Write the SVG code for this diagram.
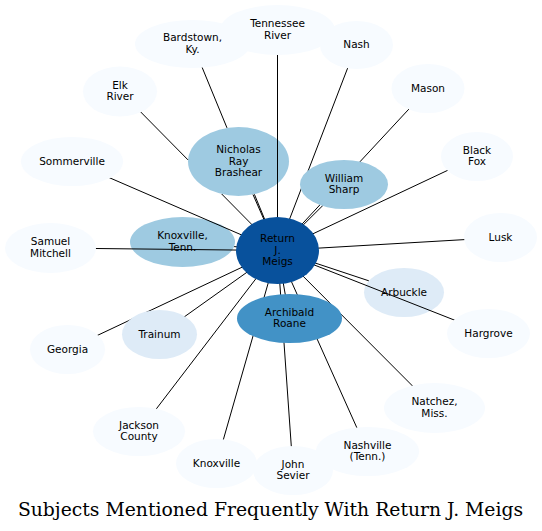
<svg xmlns="http://www.w3.org/2000/svg" width="542" height="531" viewBox="0 0 542 531">
<style>
text{font-family:"DejaVu Sans",sans-serif;font-size:10.5px;text-anchor:middle;fill:#000}
.t{font-family:"DejaVu Serif",serif;font-size:18.8px}
.c0{fill:#f7fbff}.c1{fill:#deebf7}.c2{fill:#9ecae1}.c3{fill:#4292c6}.c4{fill:#08519c}
#edges path{stroke:#000;stroke-width:1;fill:none}
</style>
<rect width="542" height="531" fill="#fff"/>
<g id="n_knoxtenn"><ellipse class="c2" cx="182.5" cy="242" rx="52.5" ry="25"/><text x="182.5" y="239.25">Knoxville,</text><text x="182.5" y="250.75">Tenn.</text></g>
<g id="n_arbuckle"><ellipse class="c1" cx="404" cy="292.5" rx="40" ry="24.5"/><text x="404" y="295.5">Arbuckle</text></g>
<g id="n_nicholas"><ellipse class="c2" cx="238.5" cy="161.5" rx="50.5" ry="34.5"/><text x="238.5" y="153">Nicholas</text><text x="238.5" y="164.5">Ray</text><text x="238.5" y="176">Brashear</text></g>
<g id="edges">
<path d="M120,91L188,159.9M221.7,194L277.5,250.5"/>
<path d="M192.5,44L227,127.9M254.4,194.3L277.5,250.5"/>
<path d="M277.5,30L277.5,250.5"/>
<path d="M356.5,45L277.5,250.5"/>
<path d="M428,88.5L277.5,250.5"/>
<path d="M477,156.5L277.5,250.5"/>
<path d="M500.5,237.5L277.5,250.5"/>
<path d="M488.5,333.5L277.5,250.5"/>
<path d="M434.5,408L277.5,250.5"/>
<path d="M367.5,451.5L277.5,250.5"/>
<path d="M293,470.5L277.5,250.5"/>
<path d="M216.5,463.5L277.5,250.5"/>
<path d="M139,431.5L277.5,250.5"/>
<path d="M67.5,349.5L277.5,250.5"/>
<path d="M159.5,334.5L277.5,250.5"/>
<path d="M50.5,248L277.5,250.5"/>
<path d="M72,161.5L277.5,250.5"/>
<path d="M253,194.55L277.5,250.5"/>
<path d="M344,184.5L277.5,250.5"/>
<path d="M234.1,246.6L277.5,250.5"/>
<path d="M368.8,280.8L277.5,250.5"/>
<path d="M289.5,318.5L277.5,250.5"/>
</g>
<g id="n_sommerville"><ellipse class="c0" cx="72" cy="161.5" rx="51" ry="24.5"/><text x="72" y="164.5">Sommerville</text></g>
<g id="n_samuel"><ellipse class="c0" cx="50.5" cy="248" rx="45.5" ry="25"/><text x="50.5" y="245.25">Samuel</text><text x="50.5" y="256.75">Mitchell</text></g>
<g id="n_georgia"><ellipse class="c0" cx="67.5" cy="349.5" rx="37.5" ry="24.5"/><text x="67.5" y="352.5">Georgia</text></g>
<g id="n_elk"><ellipse class="c0" cx="120" cy="91.5" rx="37" ry="25"/><text x="120" y="88.75">Elk</text><text x="120" y="100.25">River</text></g>
<g id="n_bardstown"><ellipse class="c0" cx="192.5" cy="44" rx="57.5" ry="24"/><text x="192.5" y="41.25">Bardstown,</text><text x="192.5" y="52.75">Ky.</text></g>
<g id="n_nash"><ellipse class="c0" cx="356.5" cy="45" rx="36.5" ry="24"/><text x="356.5" y="48">Nash</text></g>
<g id="n_tennessee"><ellipse class="c0" cx="277.5" cy="30" rx="57.5" ry="25"/><text x="277.5" y="27.25">Tennessee</text><text x="277.5" y="38.75">River</text></g>
<g id="n_mason"><ellipse class="c0" cx="428" cy="88.5" rx="36.5" ry="24.5"/><text x="428" y="91.5">Mason</text></g>
<g id="n_blackfox"><ellipse class="c0" cx="477" cy="156.5" rx="36" ry="24.5"/><text x="477" y="153.75">Black</text><text x="477" y="165.25">Fox</text></g>
<g id="n_lusk"><ellipse class="c0" cx="500.5" cy="237.5" rx="36.5" ry="24.5"/><text x="500.5" y="240.5">Lusk</text></g>
<g id="n_hargrove"><ellipse class="c0" cx="488.5" cy="333.5" rx="41.5" ry="24.5"/><text x="488.5" y="336.5">Hargrove</text></g>
<g id="n_natchez"><ellipse class="c0" cx="434.5" cy="408" rx="50.5" ry="25"/><text x="434.5" y="405.25">Natchez,</text><text x="434.5" y="416.75">Miss.</text></g>
<g id="n_jackson"><ellipse class="c0" cx="139" cy="431.5" rx="46" ry="24.5"/><text x="139" y="428.75">Jackson</text><text x="139" y="440.25">County</text></g>
<g id="n_knoxville"><ellipse class="c0" cx="216.5" cy="463.5" rx="40.5" ry="24.5"/><text x="216.5" y="466.5">Knoxville</text></g>
<g id="n_nashville"><ellipse class="c0" cx="367.5" cy="451.5" rx="51.5" ry="24.5"/><text x="367.5" y="448.75">Nashville</text><text x="367.5" y="460.25">(Tenn.)</text></g>
<g id="n_johnsevier"><ellipse class="c0" cx="293" cy="470.5" rx="40" ry="24.5"/><text x="293" y="467.75">John</text><text x="293" y="479.25">Sevier</text></g>
<g id="n_william"><ellipse class="c2" cx="344" cy="184.5" rx="44" ry="24.5"/><text x="344" y="181.75">William</text><text x="344" y="193.25">Sharp</text></g>
<g id="n_trainum"><ellipse class="c1" cx="159.5" cy="334.5" rx="37.5" ry="24.5"/><text x="159.5" y="337.5">Trainum</text></g>
<g id="n_archibald"><ellipse class="c3" cx="289.5" cy="318.5" rx="52.5" ry="24.5"/><text x="289.5" y="315.75">Archibald</text><text x="289.5" y="327.25">Roane</text></g>
<g id="n_center"><ellipse class="c4" cx="277.5" cy="250.5" rx="41.5" ry="33.5"/><text x="277.5" y="242">Return</text><text x="277.5" y="253.5">J.</text><text x="277.5" y="265">Meigs</text></g>
<text class="t" x="270.5" y="516">Subjects Mentioned Frequently With Return J. Meigs</text>
</svg>
